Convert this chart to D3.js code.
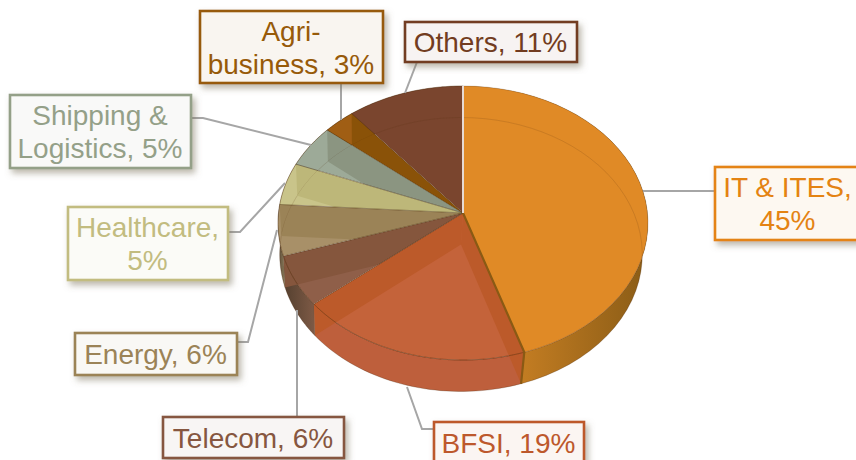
<!DOCTYPE html>
<html><head><meta charset="utf-8">
<script src="https://cdn.jsdelivr.net/npm/d3@7"></script>
<style>html,body{margin:0;padding:0;background:#fff;overflow:hidden}svg{display:block}</style>
</head><body><svg id="c" width="856" height="460"></svg>
<script>
const categories=["IT & ITES","BFSI","Telecom","Energy","Healthcare","Shipping & Logistics","Agri-business","Others"];
const values=[45,19,6,6,5,5,3,11];
const labelLines=[["IT & ITES,","45%"],["BFSI, 19%"],["Telecom, 6%"],["Energy, 6%"],["Healthcare,","5%"],["Shipping &","Logistics, 5%"],["Agri-","business, 3%"],["Others, 11%"]];
const labelColors=["#E48312","#BD582C","#865640","#9B8357","#C2BC80","#94A088","#975A09","#723C20"];
const faceColors=["#E08A26","#C4633A","#8F5F49","#A89068","#C9C48A","#9DAA98","#A05E14","#7A452E"];
const stripColors=["#E08A26","#BC5A2A","#85563D","#9B8357","#BDB779","#8B9581","#8A5208","#7A452E"];
const wallFrom=["#DE8C28","#BE5F3C","#7E5A46","#8A7A58","#B0A878","#8B9581","#8A5208","#7A452E"];
const wallTo=["#8A5C16","#BE5F3C","#54402F","#5A4A38","#B0A878","#8B9581","#8A5208","#7A452E"];
const boxes=[[715,167,146,73],[434,422,150,42],[163,417,181,41],[75,333,162,42],[68,207,160,73],[10,95,181,73],[200,11,183,72],[405,22,172,40]];
const leaders=[[[643,191],[715,191]],[[407,387],[422,429],[434,429]],[[297,310],[297,417]],[[277,230],[248,342],[237,342]],[[285,183],[240,232],[228,232]],[[311,145],[203,118],[191,118]],[[341,120],[341,83]],[[405,93],[417,62]]];

const svg=d3.select("#c");
const defs=svg.append("defs");
const shadow=defs.append("filter").attr("id","sh").attr("x","-20%").attr("y","-20%").attr("width","140%").attr("height","150%");
shadow.append("feDropShadow").attr("dx",3).attr("dy",4).attr("stdDeviation",3.2).attr("flood-color","#7a7058").attr("flood-opacity",0.5);

const pie=d3.pie().sort(null).value(d=>d);
const arcs=pie(values);
const persp=-0.073;
const sx=d3.scaleLinear().domain([-1,1]).range([463-185,463+185]);
const sy=d3.scaleLinear().domain([-1,1]).range([223-137,223+137]);
const depth=31.5, floorScale=0.98, floorShift=-2;
// projects a point of the unit disc (clockwise angle from 12 o'clock, radius) on the tilted top face
function proj(a,r,dy=0){
  const x=r*Math.sin(a), y=-r*Math.cos(a), den=1+persp*y;
  const px=sx(x*Math.sqrt(1-persp*persp)/den), py=sy((y+persp)/den);
  return dy? [463+floorShift+(px-463)*floorScale, py+dy] : [px,py];
}
const line=d3.line();
const sweep=(a0,a1,dy)=>d3.range(0,41).map(i=>proj(a0+(a1-a0)*i/40,1,dy));
const apex=dy=>proj(0,0,dy);
const wedge=(d,dy)=>[apex(dy),...sweep(d.startAngle,d.endAngle,dy)];
const wall=d=>[...sweep(d.startAngle,d.endAngle,0),...sweep(d.startAngle,d.endAngle,depth).reverse()];
const radial=a=>[apex(0),proj(a,1,0),proj(a,1,depth),apex(depth)];

arcs.forEach((d,i)=>{
  const g=defs.append("linearGradient").attr("id","w"+i).attr("gradientUnits","userSpaceOnUse");
  const xs=wall(d).map(p=>p[0]);
  const right=i===0;
  g.attr("x1",right?d3.min(xs):d3.max(xs)).attr("x2",right?d3.max(xs):d3.min(xs)).attr("y1",0).attr("y2",0);
  g.append("stop").attr("offset",0).attr("stop-color",wallFrom[i]);
  g.append("stop").attr("offset",1).attr("stop-color",wallTo[i]);
  const c=defs.append("clipPath").attr("id","c"+i);
  c.append("path").attr("d",line(wedge(d,0))+"Z");
  c.append("path").attr("d",line(wall(d))+"Z");
});
// outer walls, behind everything
const gw=svg.append("g");
arcs.forEach((d,i)=>{
  gw.append("path").attr("d",line(wall(d))+"Z").attr("fill",`url(#w${i})`)
    .attr("stroke","#5a3a20").attr("stroke-opacity",.3).attr("stroke-width",.8);
});
// top faces, inner walls and the floor seen through them
arcs.forEach((d,i)=>{
  const g=svg.append("g").attr("clip-path",`url(#c${i})`);
  g.append("path").attr("d",line(wedge(d,0))+"Z").attr("fill",faceColors[i]);
  if(i===1) g.append("path").attr("d",line(radial(d.startAngle))+"Z").attr("fill",stripColors[i]);
  g.append("path").attr("d",line(radial(d.endAngle))+"Z").attr("fill",stripColors[i]);
  g.append("path").attr("d",line(sweep(d.startAngle,d.endAngle,depth))).attr("fill","none")
    .attr("stroke","#5a3410").attr("stroke-opacity",.16).attr("stroke-width",1);
  g.append("path").attr("d",line(sweep(d.startAngle,d.endAngle,0))).attr("fill","none")
    .attr("stroke","#5a3410").attr("stroke-opacity",.25).attr("stroke-width",1);
});
// slice seams
arcs.forEach((d,i)=>{
  if(i===0) return;
  svg.append("path").attr("d",line(wedge(d,0))+"Z").attr("fill","none")
    .attr("stroke","#4a3010").attr("stroke-opacity",.25).attr("stroke-width",1);
});
svg.append("path").attr("d",line([apex(0),proj(arcs[0].endAngle,1,0),proj(arcs[0].endAngle,1,depth)]))
  .attr("fill","none").attr("stroke","#8a5a14").attr("stroke-width",2.2);
svg.append("path").attr("d",line([apex(0),proj(0,1,0)])).attr("fill","none").attr("stroke","#E6DAD4").attr("stroke-width",2);

// leader lines
leaders.forEach(l=>svg.append("path").attr("d",line(l)).attr("fill","none").attr("stroke","#A6A6A6").attr("stroke-width",2));
// label boxes
categories.forEach((c,i)=>{
  const [x,y,w,h]=boxes[i];
  const g=svg.append("g");
  g.append("rect").attr("x",x).attr("y",y).attr("width",w).attr("height",h)
    .attr("fill",d3.interpolateRgb(labelColors[i],"#fff")(0.94)).attr("stroke",labelColors[i]).attr("stroke-width",2.6).attr("filter","url(#sh)");
  const n=labelLines[i].length, cy=y+h/2;
  labelLines[i].forEach((t,k)=>{
    g.append("text").attr("x",x+w/2-0.5).attr("y",cy+(k-(n-1)/2)*33+10).attr("text-anchor","middle")
      .attr("font-family","'Liberation Sans',Arial,sans-serif").attr("font-size",28).attr("fill",labelColors[i]).text(t);
  });
});
</script></body></html>
